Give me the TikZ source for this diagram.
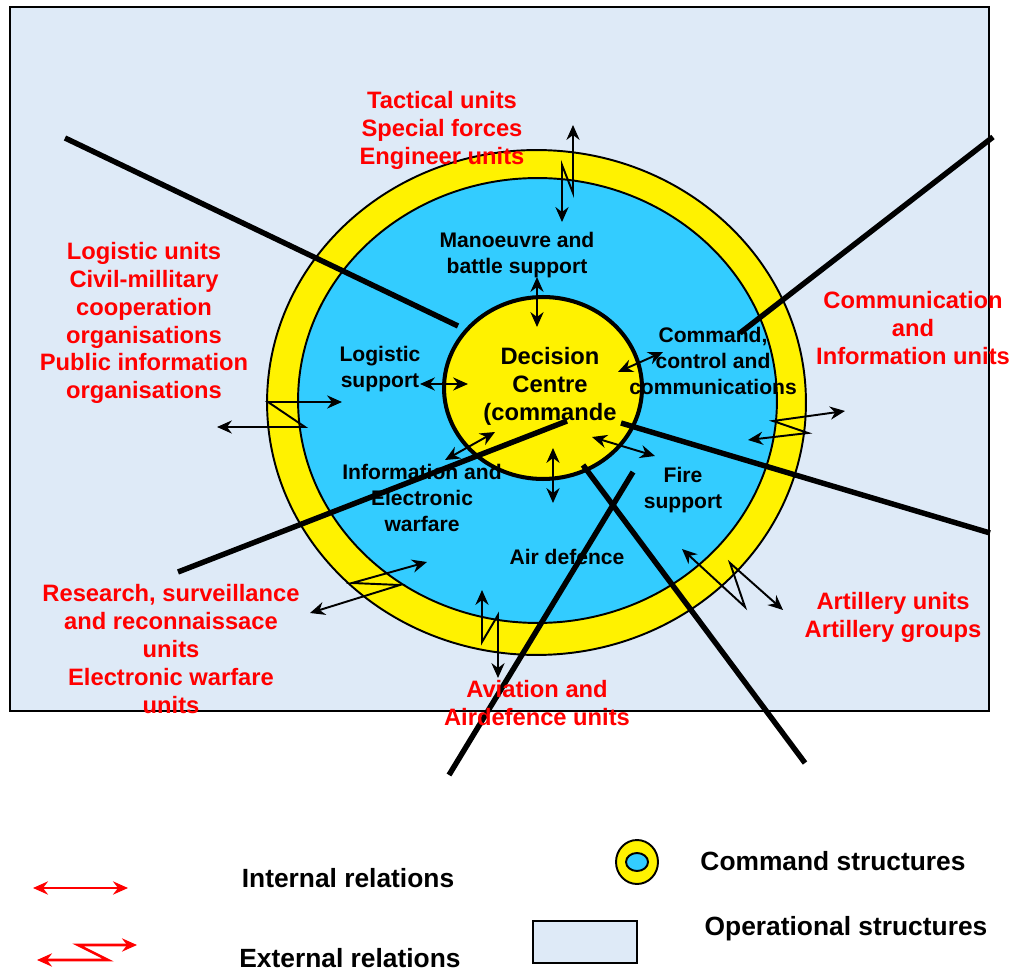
\documentclass[tikz,border=0pt]{standalone}
\usepackage{fontspec}
\setmainfont{Liberation Sans}
\usetikzlibrary{arrows.meta,shapes.geometric}
\definecolor{paleblue}{RGB}{222,234,247}
\definecolor{skyblue}{RGB}{51,204,255}
\definecolor{signalred}{RGB}{255,0,0}

\tikzset{
  unittext/.style={text=signalred,align=center,font=\fontsize{13.5}{15.9}\selectfont\bfseries},
  roletext/.style={align=center,font=\fontsize{12}{14.6}\selectfont\bfseries},
  keytext/.style={font=\fontsize{15}{18}\selectfont\bfseries},
  divider/.style={line width=3.1pt},
  relation/.style={{Stealth[length=8.5pt,width=7.5pt,inset=2.8pt]}-{Stealth[length=8.5pt,width=7.5pt,inset=2.8pt]},line width=1.1pt},
  keyrelation/.style={relation,signalred,line width=1.5pt},
}

\begin{document}
\begin{tikzpicture}[x=0.02cm,y=-0.02cm]
    \useasboundingbox (0,0) rectangle (1013,972);
    \draw[line width=1.1pt,fill=paleblue] (10,7) rectangle (989,711);

    \node (outer)  at (536.5,402.5) [ellipse,draw,line width=1.1pt,fill=yellow,inner sep=0pt,minimum width=10.78cm,minimum height=10.1cm] {};
    \node (inner)  at (537.5,400.5) [ellipse,draw,line width=1.1pt,fill=skyblue,inner sep=0pt,minimum width=9.58cm,minimum height=8.9cm] {};
    \node (centre) at (543,388) [ellipse,draw,line width=2.3pt,fill=yellow,inner sep=0pt,minimum width=3.96cm,minimum height=3.64cm] {};

    \node (manoeuvre) at (517,255) [roletext] {Manoeuvre and\\battle support};
    \node (logsup)    at (380,369) [roletext] {Logistic\\support};
    \node (decision)  at (550,386) [roletext,font=\fontsize{13.5}{15.9}\selectfont\bfseries] {Decision\\Centre\\(commande};
    \node (ccc)       at (713,361) [roletext] {Command,\\control and\\communications};
    \node (infowar)   at (422,498) [roletext] {Information and\\Electronic\\warfare};
    \node (firesup)   at (683,490) [roletext] {Fire\\support};
    \node (airdef)    at (567,557) [roletext] {Air defence};

    \coordinate (d1a) at (65,138);   \coordinate (d1b) at (458,326);
    \coordinate (d2a) at (993,137);  \coordinate (d2b) at (740,333);
    \coordinate (d3a) at (178,572);  \coordinate (d3b) at (567,421);
    \coordinate (d4a) at (621,423);  \coordinate (d4b) at (990,533);
    \coordinate (d5a) at (633,472);  \coordinate (d5b) at (449,775);
    \coordinate (d6a) at (583,465);  \coordinate (d6b) at (805,763);
    \draw[divider] (d1a) -- (d1b);
    \draw[divider] (d2a) -- (d2b);
    \draw[divider] (d3a) -- (d3b);
    \draw[divider] (d4a) -- (d4b);
    \draw[divider] (d5a) -- (d5b);
    \draw[divider] (d6a) -- (d6b);

    \node (tactical)  at (442,130) [unittext] {Tactical units\\Special forces\\Engineer units};
    \node (logunits)  at (144,323) [unittext] {Logistic units\\Civil-millitary\\cooperation\\organisations\\Public information\\organisations};
    \node (communits) at (913,328) [unittext] {Communication\\and\\Information units};
    \node (research)  at (171,649) [unittext] {Research, surveillance\\and reconnaissace\\units\\Electronic warfare\\units};
    \node (artillery) at (893,617) [unittext] {Artillery units\\Artillery groups};
    \node (aviation)  at (537,703) [unittext] {Aviation and\\Airdefence units};

    \coordinate (i1a) at (537,277); \coordinate (i1b) at (537,327);
    \coordinate (i2a) at (420,384); \coordinate (i2b) at (468,384);
    \coordinate (i3a) at (618,372); \coordinate (i3b) at (663,352);
    \coordinate (i4a) at (445,460); \coordinate (i4b) at (495,432);
    \coordinate (i5a) at (553,448); \coordinate (i5b) at (553,503);
    \coordinate (i6a) at (592,437); \coordinate (i6b) at (655,456);
    \draw[relation] (i1a) to (i1b);
    \draw[relation] (i2a) to (i2b);
    \draw[relation] (i3a) to (i3b);
    \draw[relation] (i4a) to (i4b);
    \draw[relation] (i5a) to (i5b);
    \draw[relation] (i6a) to (i6b);

    \coordinate (e1a) at (573,125); \coordinate (e1b) at (562,222);
    \coordinate (e2a) at (217,427); \coordinate (e2b) at (342,402);
    \coordinate (e3a) at (748,440); \coordinate (e3b) at (845,411);
    \coordinate (e4a) at (310,613); \coordinate (e4b) at (427,562);
    \coordinate (e5a) at (482,590); \coordinate (e5b) at (498,678);
    \coordinate (e6a) at (682,549); \coordinate (e6b) at (783,610);
    \draw[relation] (e1a) -- (573,193) -- (562,165) -- (e1b);
    \draw[relation] (e2a) -- (305,427) -- (268,402) -- (e2b);
    \draw[relation] (e3a) -- (808,433) -- (773,421) -- (e3b);
    \draw[relation] (e4a) -- (400,585) -- (352,583) -- (e4b);
    \draw[relation] (e5a) -- (482,642) -- (498,615) -- (e5b);
    \draw[relation] (e6a) -- (745,607) -- (730,563) -- (e6b);

    \coordinate (k1a) at (33,888);  \coordinate (k1b) at (128,888);
    \coordinate (k2a) at (37,960);  \coordinate (k2b) at (137,945);
    \draw[keyrelation] (k1a) to (k1b);
    \draw[keyrelation] (k2a) -- (108,960) -- (78,945) -- (k2b);
    \node (internal) at (348,878) [keytext] {Internal relations};
    \node (external) at (350,958) [keytext] {External relations};

    \node (keyouter) at (637,862) [ellipse,draw,line width=1.1pt,fill=yellow,inner sep=0pt,minimum width=0.84cm,minimum height=0.88cm] {};
    \node (keyinner) at (637,862) [ellipse,draw,line width=1.1pt,fill=skyblue,inner sep=0pt,minimum width=0.44cm,minimum height=0.36cm] {};
    \node (keyrect)  at (585,942) [rectangle,draw,line width=1.1pt,fill=paleblue,inner sep=0pt,minimum width=2.08cm,minimum height=0.84cm] {};
    \node (command)  at (833,861) [keytext] {Command structures};
    \node (operation) at (846,929) [keytext] {Operational structures};
\end{tikzpicture}
\end{document}
